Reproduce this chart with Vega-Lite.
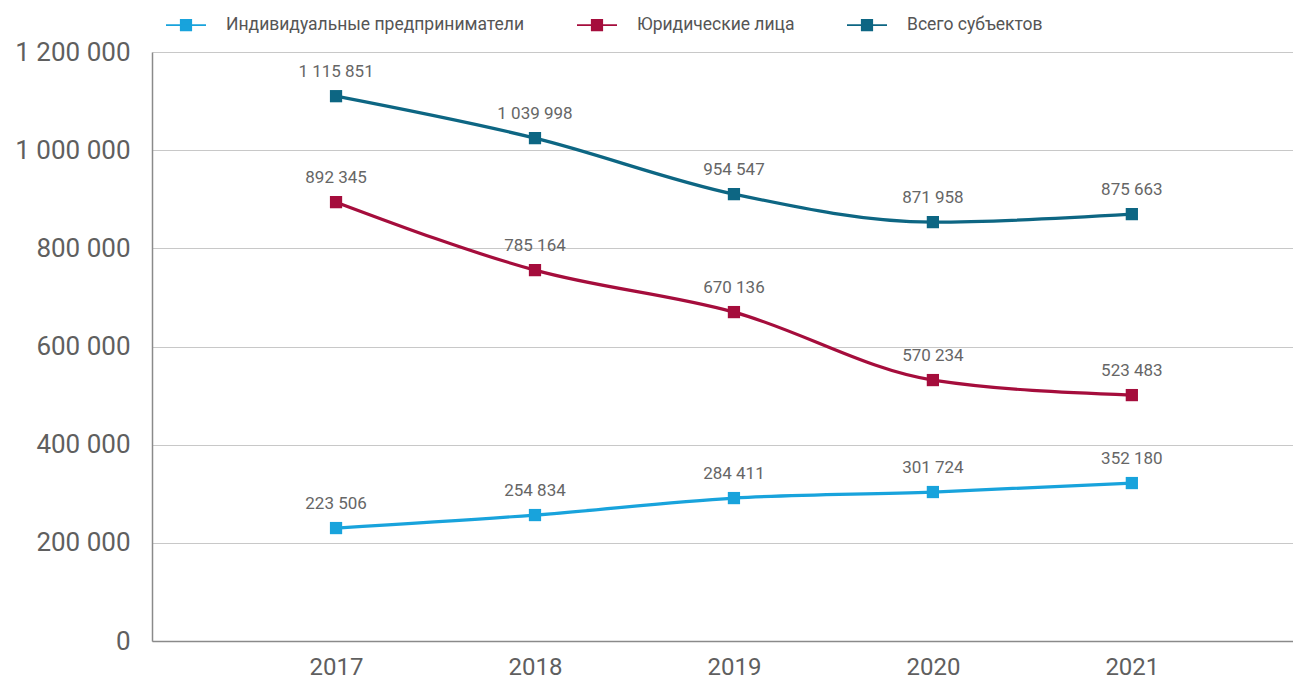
{
  "$schema": "https://vega.github.io/schema/vega-lite/v6.json",
  "width": 1141,
  "height": 589,
  "autosize": {"type": "none"},
  "padding": {"left": 152, "top": 52, "right": 0, "bottom": 41},
  "background": "white",
  "config": {
    "view": {"stroke": null},
    "font": "Roboto",
    "locale": {"number": {"decimal": ",", "thousands": " ", "grouping": [3], "currency": ["", ""]}}
  },
  "data": {
    "values": [
      {"year": 2017, "series": "Индивидуальные предприниматели", "value": 230100, "label": "223 506"},
      {"year": 2018, "series": "Индивидуальные предприниматели", "value": 256600, "label": "254 834"},
      {"year": 2019, "series": "Индивидуальные предприниматели", "value": 291200, "label": "284 411"},
      {"year": 2020, "series": "Индивидуальные предприниматели", "value": 303500, "label": "301 724"},
      {"year": 2021, "series": "Индивидуальные предприниматели", "value": 321800, "label": "352 180"},
      {"year": 2017, "series": "Юридические лица", "value": 894100, "label": "892 345"},
      {"year": 2018, "series": "Юридические лица", "value": 755600, "label": "785 164"},
      {"year": 2019, "series": "Юридические лица", "value": 670100, "label": "670 136"},
      {"year": 2020, "series": "Юридические лица", "value": 531600, "label": "570 234"},
      {"year": 2021, "series": "Юридические лица", "value": 501000, "label": "523 483"},
      {"year": 2017, "series": "Всего субъектов", "value": 1110000, "label": "1 115 851"},
      {"year": 2018, "series": "Всего субъектов", "value": 1024500, "label": "1 039 998"},
      {"year": 2019, "series": "Всего субъектов", "value": 910400, "label": "954 547"},
      {"year": 2020, "series": "Всего субъектов", "value": 853400, "label": "871 958"},
      {"year": 2021, "series": "Всего субъектов", "value": 869700, "label": "875 663"}
    ]
  },
  "encoding": {
    "x": {
      "field": "year",
      "type": "quantitative",
      "scale": {"domain": [2016.075, 2021.81], "nice": false, "zero": false},
      "axis": {
        "title": null,
        "values": [2017, 2018, 2019, 2020, 2021],
        "format": "d",
        "grid": false,
        "ticks": false,
        "domain": true,
        "domainColor": "#8a8a8a",
        "domainWidth": 1.5,
        "labelFontSize": 24,
        "labelColor": "#5f5f5f",
        "labelPadding": 14
      }
    },
    "y": {
      "field": "value",
      "type": "quantitative",
      "scale": {"domain": [0, 1200000], "nice": false},
      "axis": {
        "title": null,
        "values": [0, 200000, 400000, 600000, 800000, 1000000, 1200000],
        "format": ",d",
        "grid": true,
        "gridColor": "#c8c8c8",
        "gridWidth": 1,
        "ticks": false,
        "domain": true,
        "domainColor": "#8a8a8a",
        "domainWidth": 1.5,
        "labelFontSize": 26,
        "labelColor": "#5f5f5f",
        "labelPadding": 22
      }
    },
    "color": {
      "field": "series",
      "type": "nominal",
      "scale": {
        "domain": ["Индивидуальные предприниматели", "Юридические лица", "Всего субъектов"],
        "range": ["#18a3dc", "#a50d3c", "#0d6683"]
      },
      "legend": {
        "orient": "none",
        "legendX": 13,
        "legendY": -48,
        "direction": "horizontal",
        "title": null,
        "padding": 0,
        "symbolType": "M-1,0H1M-0.26,-0.26H0.26V0.26H-0.26Z",
        "symbolSize": 1600,
        "symbolStrokeWidth": 1.8,
        "labelFontSize": 17.5,
        "labelLimit": 0,
        "labelColor": "#555555",
        "labelOffset": 19,
        "columnPadding": 48,
        "encode": {
          "symbols": {
            "update": {
              "fill": {"scale": "color", "field": "value"},
              "stroke": {"scale": "color", "field": "value"},
              "opacity": {"value": 1}
            }
          }
        }
      }
    }
  },
  "layer": [
    {"mark": {"type": "line", "interpolate": "monotone", "strokeWidth": 3.2}},
    {"mark": {"type": "point", "shape": "square", "filled": true, "size": 150, "opacity": 1}},
    {
      "mark": {"type": "text", "dy": -24, "fontSize": 17, "baseline": "middle"},
      "encoding": {"text": {"field": "label"}, "color": {"value": "#666666"}}
    }
  ]
}
